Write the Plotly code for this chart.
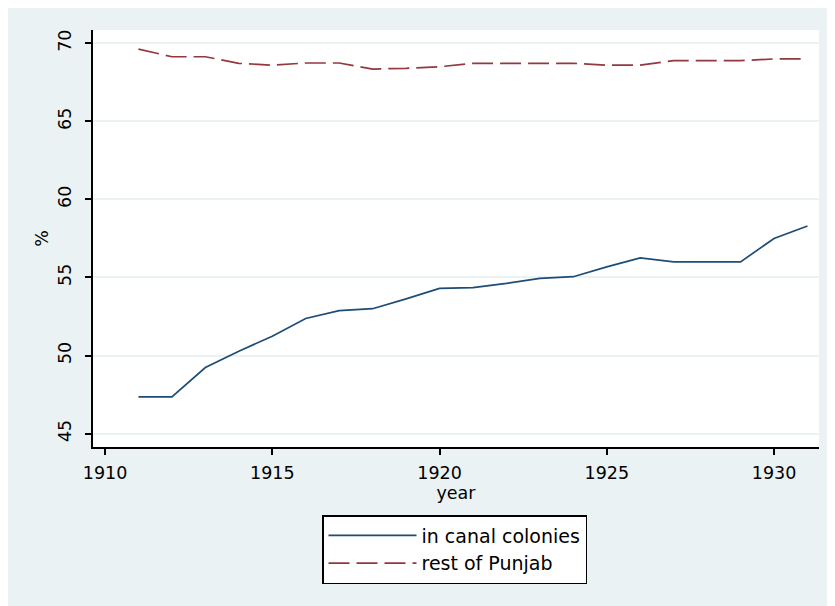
import plotly.graph_objects as go

years = list(range(1911, 1932))
canal_colonies = [47.35, 47.35, 49.23, 50.28, 51.24, 52.37, 52.88, 53.0, 53.63, 54.3, 54.35,
                  54.62, 54.94, 55.05, 55.68, 56.26, 56.0, 56.0, 56.0, 57.5, 58.3]
rest_of_punjab = [69.63, 69.14, 69.14, 68.72, 68.6, 68.74, 68.74, 68.35, 68.4, 68.5, 68.72,
                  68.72, 68.72, 68.72, 68.6, 68.6, 68.89, 68.89, 68.89, 69.0, 69.0]
x_ticks = [1910, 1915, 1920, 1925, 1930]
y_ticks = [45, 50, 55, 60, 65, 70]

BG = "#EAF2F3"
FONT = "DejaVu Sans"

fig = go.Figure()
fig.add_trace(go.Scatter(x=years, y=canal_colonies, mode="lines", name="in canal colonies",
                         line=dict(color="#1D4C75", width=1.7)))
fig.add_trace(go.Scatter(x=years, y=rest_of_punjab, mode="lines", name="rest of Punjab",
                         line=dict(color="#93383E", width=1.7, dash="21px,7px")))

# page is offset by the 8px body margin
OFF = 8
W, H = 835 - OFF, 606 - OFF
L, R, T, B = 93 - OFF, 16, 30 - OFF, 159
pw, ph = W - L - R, H - T - B

def px_x(p):
    return (p - OFF - L) / pw

def px_y(p):
    return (H - B - (p - OFF)) / ph

fig.update_layout(
    width=W, height=H,
    margin=dict(l=L, r=R, t=T, b=B, pad=0),
    paper_bgcolor=BG, plot_bgcolor="white",
    font=dict(family=FONT, size=17.5, color="black"),
    showlegend=True,
    legend=dict(x=px_x(322), y=px_y(515), xanchor="left", yanchor="top",
                bgcolor="white", bordercolor="black", borderwidth=1.5,
                font=dict(family=FONT, size=19), itemwidth=88,
                tracegroupgap=0),
)
fig.update_xaxes(range=[1909.641, 1931.345], tickvals=x_ticks, ticktext=[str(v) for v in x_ticks],
                 showgrid=False, zeroline=False, showline=True, linecolor="black", linewidth=1.5,
                 ticks="outside", ticklen=6, tickwidth=1.5, tickcolor="black",
                 ticklabelstandoff=3,
                 title=dict(text="year", standoff=1, font=dict(size=17.5)), automargin=False)
fig.update_yaxes(range=[44.141, 70.853], tickvals=y_ticks, ticktext=[str(v) for v in y_ticks],
                 showgrid=True, gridcolor=BG, gridwidth=2, zeroline=False,
                 showline=True, linecolor="black", linewidth=1.5,
                 ticks="outside", ticklen=6, tickwidth=1.5, tickcolor="black", tickangle=-90,
                 ticklabelstandoff=7,
                 title=dict(text="%", standoff=2, font=dict(size=17.5)), automargin=False)

fig.write_html("out.html")
